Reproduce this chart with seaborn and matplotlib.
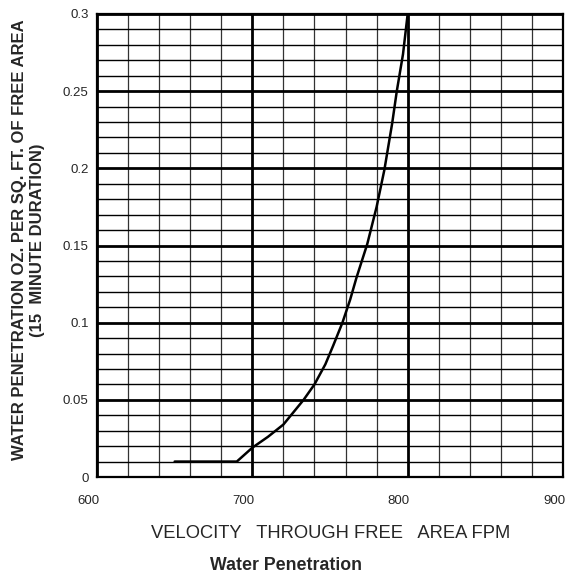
import matplotlib
matplotlib.use("Agg")
import matplotlib.pyplot as plt
import matplotlib.transforms as mtransforms
from matplotlib.ticker import MultipleLocator, FixedLocator
import seaborn as sns

# values
velocity = [650, 690, 700, 710, 720, 733, 740, 747, 752, 758, 763, 767,
            774, 780, 785, 790, 793, 797, 800]
penetration = [0.010, 0.010, 0.019, 0.026, 0.034, 0.050, 0.060, 0.073,
               0.085, 0.100, 0.115, 0.129, 0.151, 0.175, 0.199, 0.229,
               0.250, 0.274, 0.300]
x_ticks = [600, 700, 800, 900]
y_ticks = [0, 0.05, 0.1, 0.15, 0.2, 0.25, 0.3]
y_tick_labels = ["0", "0.05", "0.1", "0.15", "0.2", "0.25", "0.3"]

sns.set_style("white")
plt.rcParams['font.family'] = ['Liberation Sans', 'DejaVu Sans']

fig = plt.figure(figsize=(5.72, 5.76), dpi=100)
fig.subplots_adjust(left=97 / 572, right=563 / 572,
                    bottom=1 - 477 / 576, top=1 - 14 / 576)
ax = fig.add_subplot(111)

sns.lineplot(x=velocity, y=penetration, ax=ax, color='black', linewidth=1.8)

ax.set_xlim(600, 900)
ax.set_ylim(0, 0.3)

# grid: thick major lines, thin minor lines
ax.xaxis.set_major_locator(FixedLocator(x_ticks))
ax.xaxis.set_minor_locator(MultipleLocator(20))
ax.yaxis.set_major_locator(FixedLocator(y_ticks))
ax.yaxis.set_minor_locator(MultipleLocator(0.01))
ax.set_yticklabels(y_tick_labels)
ax.set_xticklabels([str(v) for v in x_ticks])

ax.grid(which='major', axis='both', color='black', linewidth=2.0)
ax.grid(which='minor', axis='y', color='black', linewidth=1.0)
ax.grid(which='minor', axis='x', color='#333333', linewidth=0.9)
ax.set_axisbelow(True)

for s in ax.spines.values():
    s.set_color('black')
    s.set_linewidth(1.6)

ax.tick_params(which='both', length=0)
ax.tick_params(axis='x', pad=13, labelsize=9.5)
ax.tick_params(axis='y', pad=6, labelsize=9.5)

# tick labels in the scan sit a little left of their grid lines
shift = mtransforms.ScaledTranslation(-9 / 100, 0, fig.dpi_scale_trans)
for lab in ax.get_xticklabels():
    lab.set_transform(lab.get_transform() + shift)

ax.set_xlabel("")
ax.set_ylabel("")

fig.text(29 / 572, 1 - 240 / 576,
         "WATER PENETRATION OZ. PER SQ. FT. OF FREE AREA\n(15  MINUTE DURATION)",
         rotation=90, ha='center', va='center', multialignment='center',
         fontsize=12, fontweight='bold', linespacing=1.25)
fig.text(331 / 572, 1 - 533 / 576, "VELOCITY   THROUGH FREE   AREA FPM",
         ha='center', va='center', fontsize=13.2)
fig.text(286 / 572, 1 - 566 / 576, "Water Penetration",
         ha='center', va='center', fontsize=12.8, fontweight='bold')

fig.savefig("out.png", dpi=100)
plt.close(fig)
